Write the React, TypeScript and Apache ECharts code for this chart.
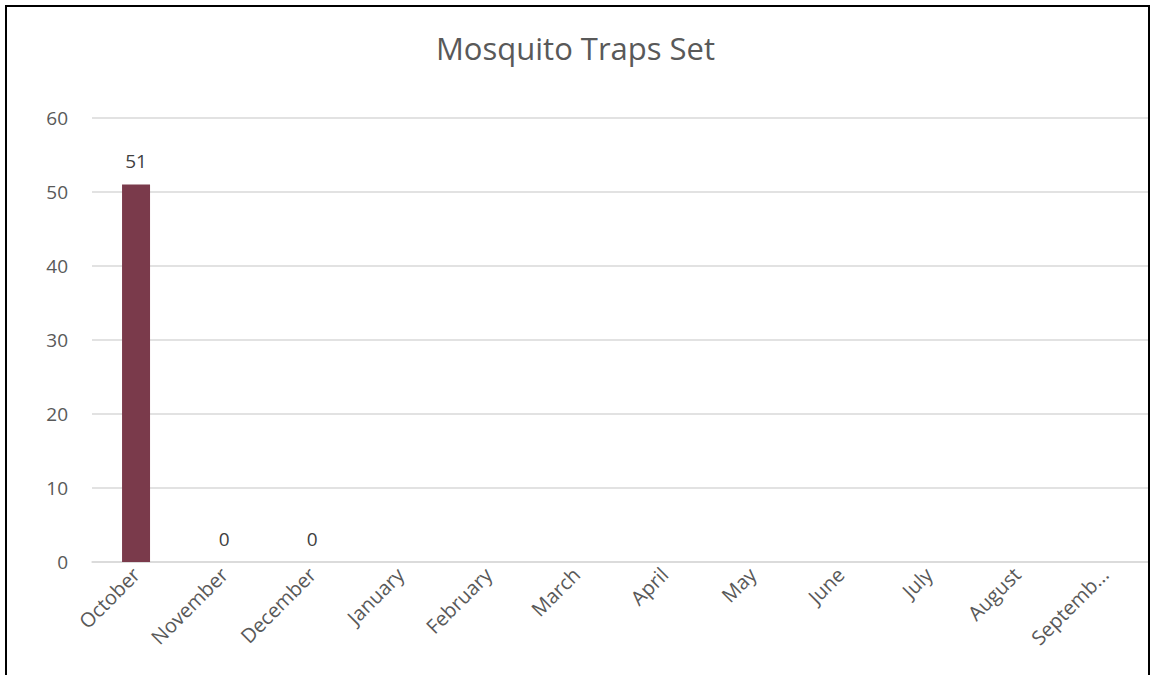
import React, { useEffect, useRef } from "react";
import * as echarts from "echarts";

const title = "Mosquito Traps Set";
const months = [
  "October",
  "November",
  "December",
  "January",
  "February",
  "March",
  "April",
  "May",
  "June",
  "July",
  "August",
  "September",
];
const trapsSet: (number | null)[] = [51, 0, 0, null, null, null, null, null, null, null, null, null];
const yTicks = { min: 0, max: 60, interval: 10 };

export default function App() {
  const ref = useRef<HTMLDivElement>(null);
  useEffect(() => {
    document.body.style.margin = "0";
    const chart = echarts.init(ref.current!, null, { renderer: "svg" });
    const font = "'Open Sans', 'Noto Sans', sans-serif";
    chart.setOption({
      animation: false,
      backgroundColor: "#ffffff",
      title: {
        text: title,
        left: "center",
        top: 27,
        textStyle: { fontFamily: font, fontSize: 31, fontWeight: "normal", color: "#595959" },
      },
      grid: { left: 92, right: 2, top: 118, bottom: 113, containLabel: false },
      xAxis: {
        type: "category",
        data: months,
        axisLine: { show: true, lineStyle: { color: "#d9d9d9", width: 1.5 } },
        axisTick: { show: false },
        axisLabel: {
          rotate: 45,
          interval: 0,
          margin: 9,
          color: "#595959",
          fontFamily: font,
          fontSize: 20,
          formatter: (v: string) => (v.length > 8 ? v.slice(0, 7) + "..." : v),
        },
      },
      yAxis: {
        type: "value",
        min: yTicks.min,
        max: yTicks.max,
        interval: yTicks.interval,
        axisLine: { show: false },
        axisTick: { show: false },
        splitLine: { lineStyle: { color: "#d9d9d9", width: 1.5 } },
        axisLabel: { color: "#595959", fontFamily: font, fontSize: 19, margin: 24 },
      },
      series: [
        {
          type: "bar",
          data: trapsSet,
          barWidth: 28,
          itemStyle: { color: "#7A3A4B" },
          label: {
            show: true,
            position: "top",
            distance: 14,
            color: "#404040",
            fontFamily: font,
            fontSize: 19,
          },
        },
      ],
      graphic: [
        {
          type: "rect",
          shape: { x: 6, y: 6, width: 1143, height: 720 },
          style: { fill: "none", stroke: "#000000", lineWidth: 2 },
          z: 100,
        },
      ],
    });
    return () => chart.dispose();
  }, []);
  return <div ref={ref} style={{ width: 1151, height: 675 }} />;
}
